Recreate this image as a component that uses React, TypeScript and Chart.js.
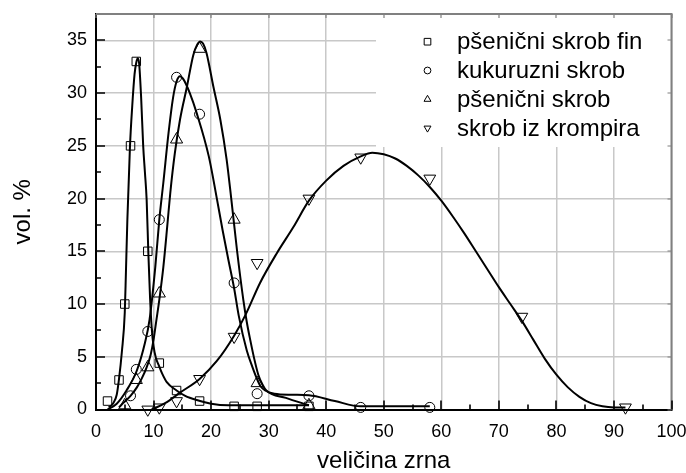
import React, { useEffect, useRef } from 'react';
import { Chart, registerables } from 'chart.js';
import { drawPoint } from 'chart.js/helpers';

Chart.register(...registerables);

const FONT = "'Liberation Sans', Arial, sans-serif";

// Series names and marker styles
const seriesNames = ['pšenični skrob fin', 'kukuruzni skrob', 'pšenični skrob', 'skrob iz krompira'];
const seriesStyles = ['rect', 'circle', 'triangle', 'triangle'];
const seriesRotations = [0, 0, 0, 180];
const seriesRadii = [6, 5, 7, 6.8];
const legendRadii = [4.7, 3.4, 4, 4];

// Measured points
const finX = [2, 4, 5, 6, 7, 9, 11, 14, 18, 24, 28, 37];
const finY = [0.8, 2.8, 10, 25, 33, 15, 4.4, 1.8, 0.8, 0.3, 0.3, 0.3];
const kukX = [6, 7, 9, 11, 14, 18, 24, 28, 37, 46, 58];
const kukY = [1.3, 3.8, 7.4, 18, 31.5, 28, 12, 1.5, 1.3, 0.2, 0.2];
const psX = [5, 7, 9, 11, 14, 18, 24, 28, 37];
const psY = [0.4, 2.8, 4, 11, 25.6, 34.2, 18, 2.5, 0.4];
const kroX = [9, 11, 14, 18, 24, 28, 37, 46, 58, 74, 92];
const kroY = [0, 0.2, 0.8, 2.9, 6.9, 13.9, 20, 23.9, 21.9, 8.8, 0.2];

// Fitted curves
const finFitX = [2.2, 3.0, 3.6, 4.0, 4.5, 5.0, 5.2, 5.45, 5.9, 6.3, 6.7, 7.0, 7.25, 7.5, 7.85, 8.2, 8.5, 8.8, 9.1, 9.4, 9.7, 10.0, 10.4, 10.9, 11.5, 12.3, 14, 15.5, 17.5, 20, 23, 37];
const finFitY = [0.2, 0.6, 1.4, 2.9, 5.5, 9.2, 13, 18, 24.9, 28.8, 31.8, 32.9, 33.3, 32.8, 29.5, 25, 22.5, 19.9, 14.8, 10.5, 7.6, 6.0, 4.9, 4.2, 3.4, 2.6, 1.8, 1.3, 0.9, 0.55, 0.4, 0.4];
const kukFitX = [2.0, 3.6, 5.3, 7.1, 8.5, 9.3, 10.3, 11.0, 11.7, 12.6, 13.4, 14.0, 14.6, 15.2, 16.3, 17.5, 19.6, 21.0, 22.0, 23.0, 24.0, 24.8, 26.2, 27.2, 27.9, 28.6, 29.4, 31.0, 34.0, 37.0, 41.5, 46.0, 58.0];
const kukFitY = [0.0, 0.55, 1.8, 3.7, 6.3, 8.5, 13.5, 18.0, 21.5, 26.2, 29.6, 31.1, 31.6, 31.3, 30.0, 28.1, 24.0, 20.0, 17.0, 14.2, 11.5, 8.9, 5.6, 4.0, 3.0, 2.2, 1.8, 1.5, 1.4, 1.35, 0.8, 0.3, 0.3];
const psFitX = [4.0, 4.7, 6.0, 7.1, 8.0, 8.8, 9.5, 10.0, 10.5, 11.0, 11.7, 12.4, 12.9, 13.7, 14.6, 15.8, 16.9, 17.6, 18.1, 18.6, 19.2, 20.4, 21.6, 22.7, 23.5, 24.5, 25.6, 26.2, 26.8, 27.5, 28.2, 28.9, 29.6, 33.0, 37.0];
const psFitY = [0.2, 0.6, 1.3, 2.1, 3.0, 4.0, 5.2, 6.6, 8.5, 10.4, 13.5, 17.5, 20.5, 24.3, 27.5, 30.6, 33.6, 34.6, 34.9, 34.7, 33.8, 30.6, 27.5, 23.7, 20.0, 15.1, 10.4, 8.3, 6.6, 4.8, 3.3, 2.4, 1.8, 1.1, 0.4];
const kroFitX = [9.7, 12.0, 14.6, 18.0, 21.0, 24.0, 26.0, 28.5, 31.4, 34.3, 37.0, 40.0, 43.0, 46.0, 48.0, 50.0, 52.0, 54.0, 56.0, 58.0, 60.0, 62.0, 64.0, 66.0, 68.0, 70.0, 72.0, 74.0, 76.0, 78.0, 80.0, 82.0, 84.0, 86.0, 88.0, 90.0, 92.0];
const kroFitY = [0.0, 0.6, 1.6, 2.9, 4.6, 7.0, 9.0, 12.0, 14.8, 17.3, 19.8, 21.7, 23.1, 24.0, 24.35, 24.2, 23.8, 23.1, 22.2, 21.1, 19.8, 18.3, 16.7, 15.0, 13.3, 11.6, 10.0, 8.4, 6.6, 4.8, 3.3, 2.1, 1.2, 0.6, 0.3, 0.2, 0.2];

// Axis settings
const xMin = 0, xMax = 100, xStep = 10;
const yMin = 0, yMax = 37.5, yStep = 5;
const xTitle = 'veličina zrna';
const yTitle = 'vol. %';

const pts = (xs: number[], ys: number[]) => xs.map((x, i) => ({ x, y: ys[i] }));

const pointSets = [pts(finX, finY), pts(kukX, kukY), pts(psX, psY), pts(kroX, kroY)];
const fitSets = [pts(finFitX, finFitY), pts(kukFitX, kukFitY), pts(psFitX, psFitY), pts(kroFitX, kroFitY)];

const legendPlugin = {
  id: 'boxLegend',
  beforeDatasetsDraw(chart: any) {
    const { ctx, chartArea: a } = chart;
    ctx.save();
    ctx.fillStyle = '#ffffff';
    ctx.fillRect(a.right - 295.5, a.top + 1, 295.5, 132);
    ctx.font = `24px ${FONT}`;
    ctx.textBaseline = 'middle';
    ctx.textAlign = 'left';
    seriesNames.forEach((name, i) => {
      const yy = a.top + 27.7 + i * 28.8;
      ctx.strokeStyle = '#000';
      ctx.fillStyle = 'rgba(0,0,0,0)';
      ctx.lineWidth = 1;
      drawPoint(ctx, { pointStyle: seriesStyles[i], rotation: seriesRotations[i], radius: legendRadii[i], borderWidth: 1 }, a.right - 244, yy);
      ctx.fillStyle = '#000';
      ctx.fillText(name, a.right - 214.5, yy + 1);
    });
    ctx.restore();
  },
};

const framePlugin = {
  id: 'frameTicks',
  afterDatasetsDraw(chart: any) {
    const { ctx, chartArea: a, scales } = chart;
    const x = scales.x, y = scales.y;
    ctx.save();
    ctx.lineWidth = 2;
    ctx.strokeStyle = '#808080';
    ctx.beginPath();
    ctx.moveTo(a.left, a.top);
    ctx.lineTo(a.right, a.top);
    ctx.lineTo(a.right, a.bottom);
    ctx.stroke();

    const xt: number[] = x.ticks.map((t: any) => t.value);
    const yt: number[] = y.ticks.map((t: any) => t.value);
    const xh = xStep / 2, yh = yStep / 2;
    ctx.strokeStyle = '#000';
    ctx.lineWidth = 1.6;
    ctx.beginPath();
    xt.forEach((v) => {
      const px = Math.round(x.getPixelForValue(v));
      ctx.moveTo(px, a.bottom); ctx.lineTo(px, a.bottom - 9);
      if (v + xh < xMax) {
        const pm = Math.round(x.getPixelForValue(v + xh));
        ctx.moveTo(pm, a.bottom); ctx.lineTo(pm, a.bottom - 5);
      }
    });
    yt.forEach((v) => {
      const py = Math.round(y.getPixelForValue(v));
      ctx.moveTo(a.left, py); ctx.lineTo(a.left + 9, py);
      if (v + yh < yMax) {
        const pm = Math.round(y.getPixelForValue(v + yh));
        ctx.moveTo(a.left, pm); ctx.lineTo(a.left + 5, pm);
      }
    });
    ctx.stroke();
    ctx.strokeStyle = '#808080';
    ctx.lineWidth = 1.2;
    ctx.beginPath();
    xt.forEach((v) => {
      const px = Math.round(x.getPixelForValue(v));
      ctx.moveTo(px, a.top); ctx.lineTo(px, a.top + 4);
    });
    yt.forEach((v) => {
      const py = Math.round(y.getPixelForValue(v));
      ctx.moveTo(a.right, py); ctx.lineTo(a.right - 4, py);
    });
    ctx.stroke();
    ctx.restore();
  },
};

export default function App() {
  const ref = useRef<HTMLCanvasElement | null>(null);
  useEffect(() => {
    if (!ref.current) return;
    const datasets: any[] = [];
    fitSets.forEach((d, i) => {
      datasets.push({
        label: seriesNames[i] + ' fit',
        data: d,
        showLine: true,
        borderColor: '#000',
        borderWidth: 2,
        pointRadius: 0,
        cubicInterpolationMode: 'monotone',
        fill: false,
        clip: false,
      });
    });
    pointSets.forEach((d, i) => {
      datasets.push({
        label: seriesNames[i],
        data: d,
        showLine: false,
        pointStyle: seriesStyles[i],
        rotation: seriesRotations[i],
        pointRotation: seriesRotations[i],
        pointRadius: seriesRadii[i],
        borderColor: '#000',
        backgroundColor: 'rgba(0,0,0,0)',
        pointBorderWidth: 1,
        borderWidth: 1,
        clip: false,
      });
    });
    const chart = new Chart(ref.current, {
      type: 'scatter',
      data: { datasets },
      options: {
        responsive: false,
        animation: false,
        events: [],
        devicePixelRatio: 1,
        layout: { padding: { left: 0, top: 14, right: 14.5, bottom: 0 } },
        plugins: { legend: { display: false }, tooltip: { enabled: false } },
        scales: {
          x: {
            type: 'linear',
            min: xMin,
            max: xMax,
            afterFit: (s: any) => { s.height = 63.5; s.paddingLeft = 0; s.paddingRight = 0; },
            ticks: { stepSize: xStep, padding: 12, color: '#000', font: { family: FONT, size: 18 }, maxRotation: 0 },
            grid: { color: '#c8c8c8', lineWidth: 1.5, drawTicks: false },
            border: { display: true, color: '#000', width: 2 },
            title: { display: true, text: xTitle, color: '#000', font: { family: FONT, size: 24 }, padding: { top: 0, bottom: -3 } },
          },
          y: {
            type: 'linear',
            min: yMin,
            max: yMax,
            afterFit: (s: any) => { s.width = 96; s.paddingTop = 0; s.paddingBottom = 0; },
            ticks: { stepSize: yStep, includeBounds: false, padding: 9, color: '#000', font: { family: FONT, size: 18 } },
            grid: { color: '#c8c8c8', lineWidth: 1.5, drawTicks: false },
            border: { display: true, color: '#000', width: 2 },
            title: { display: true, text: yTitle, color: '#000', font: { family: FONT, size: 24 }, padding: { top: 9, bottom: 0 } },
          },
        },
      },
      plugins: [legendPlugin, framePlugin],
    } as any);
    return () => chart.destroy();
  }, []);
  return (
    <div style={{ position: 'absolute', left: 0, top: 0, width: 686, height: 473, background: '#fff' }}>
      <canvas ref={ref} width={686} height={473} />
    </div>
  );
}
